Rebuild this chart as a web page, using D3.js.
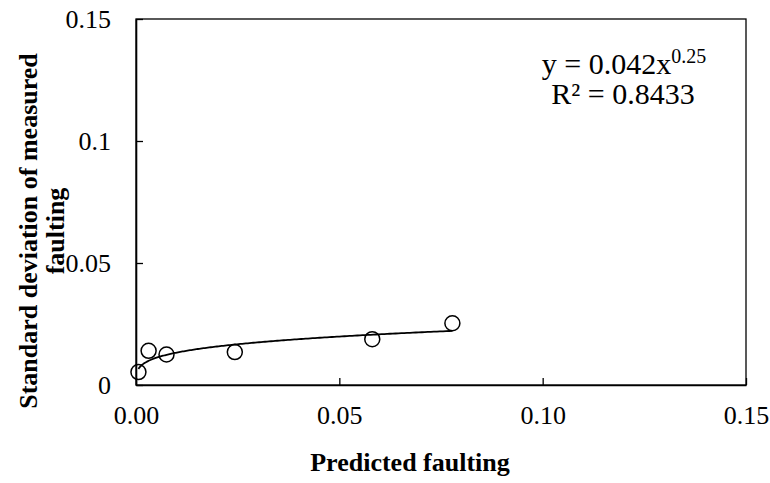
<!DOCTYPE html>
<html>
<head>
<meta charset="utf-8">
<script src="https://cdn.jsdelivr.net/npm/d3@7"></script>
<style>
  html, body { margin: 0; padding: 0; background: #fff; }
  svg { display: block; }
</style>
</head>
<body>
<svg id="chart" width="770" height="483"></svg>
<script>
// Measured scatter: predicted faulting vs. standard deviation of measured faulting
const predicted = [0.0006, 0.0031, 0.0075, 0.0243, 0.0581, 0.0778];
const stdDev    = [0.0053, 0.0140, 0.0125, 0.0135, 0.0188, 0.0253];

// Power trendline y = a * x^b
const fitA = 0.042;
const fitB = 0.25;
const fitR2 = "0.8433";

const xTicks = [0, 0.05, 0.10, 0.15];
const xTickLabels = ["0.00", "0.05", "0.10", "0.15"];
const yTicks = [0, 0.05, 0.1, 0.15];
const yTickLabels = ["0", "0.05", "0.1", "0.15"];

const SERIF = '"Liberation Serif", "Times New Roman", Times, serif';

const svg = d3.select("#chart");
const plotLeft = 136, plotRight = 746, plotTop = 19, plotBottom = 385;

const x = d3.scaleLinear().domain([0, 0.15]).range([plotLeft, plotRight]);
const y = d3.scaleLinear().domain([0, 0.15]).range([plotBottom, plotTop]);

// Plot frame
svg.append("rect")
  .attr("x", plotLeft).attr("y", plotTop)
  .attr("width", plotRight - plotLeft).attr("height", plotBottom - plotTop)
  .attr("fill", "none").attr("stroke", "#000").attr("stroke-width", 1.3);

// Axes with inward ticks
const xAxis = svg.append("g")
  .attr("transform", `translate(0,${plotBottom})`)
  .call(d3.axisBottom(x).tickValues(xTicks)
    .tickFormat((d, i) => xTickLabels[i])
    .tickSizeInner(-7).tickSizeOuter(0).tickPadding(21));
const yAxis = svg.append("g")
  .attr("transform", `translate(${plotLeft},0)`)
  .call(d3.axisLeft(y).tickValues(yTicks)
    .tickFormat((d, i) => yTickLabels[i])
    .tickSizeInner(-7).tickSizeOuter(0).tickPadding(25));

[xAxis, yAxis].forEach(g => {
  g.attr("font-family", SERIF).attr("font-size", 26);
  g.select(".domain").attr("stroke", "#000").attr("stroke-width", 1.6);
  g.selectAll(".tick line").attr("stroke", "#000").attr("stroke-width", 1.3);
  g.selectAll(".tick text").attr("fill", "#000");
});

// Trendline across the data range
const xMin = d3.min(predicted), xMax = d3.max(predicted);
const curve = d3.range(0, 201).map(i => {
  const xv = xMin + (xMax - xMin) * Math.pow(i / 200, 2);
  return [xv, fitA * Math.pow(xv, fitB)];
});
svg.append("path")
  .datum(curve)
  .attr("fill", "none").attr("stroke", "#000").attr("stroke-width", 1.8)
  .attr("d", d3.line().x(d => x(d[0])).y(d => y(d[1])));

// Data markers
svg.append("g").selectAll("circle")
  .data(predicted.map((p, i) => [p, stdDev[i]]))
  .join("circle")
  .attr("cx", d => x(d[0])).attr("cy", d => y(d[1]))
  .attr("r", 7.5)
  .attr("fill", "none").attr("stroke", "#000").attr("stroke-width", 1.5);

// Fit equation
const eq = svg.append("text")
  .attr("x", 624).attr("y", 74)
  .attr("text-anchor", "middle")
  .attr("font-family", SERIF).attr("font-size", 30).attr("fill", "#000");
eq.append("tspan").text(`y = ${fitA}x`);
eq.append("tspan").attr("dy", -11).attr("font-size", 20).text(String(fitB));
svg.append("text")
  .attr("x", 623).attr("y", 104)
  .attr("text-anchor", "middle")
  .attr("font-family", SERIF).attr("font-size", 30).attr("fill", "#000")
  .text(`R² = ${fitR2}`);

// Axis titles
svg.append("text")
  .attr("x", 410).attr("y", 471)
  .attr("text-anchor", "middle")
  .attr("font-family", SERIF).attr("font-size", 26).attr("font-weight", "bold")
  .text("Predicted faulting");

const yTitle = svg.append("text")
  .attr("transform", "translate(37,231) rotate(-90)")
  .attr("text-anchor", "middle")
  .attr("font-family", SERIF).attr("font-size", 26).attr("font-weight", "bold");
yTitle.append("tspan").attr("x", 0).attr("y", 0).text("Standard deviation of measured");
yTitle.append("tspan").attr("x", 0).attr("y", 27).text("faulting");
</script>
</body>
</html>
